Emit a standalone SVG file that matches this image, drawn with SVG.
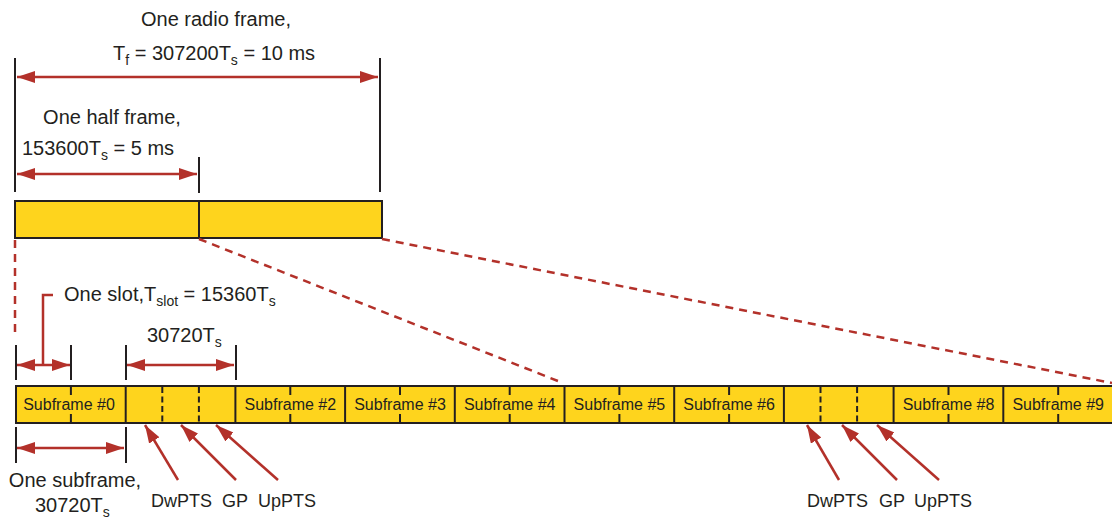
<svg xmlns="http://www.w3.org/2000/svg" width="1112" height="521" viewBox="0 0 1112 521">
  <style>
    text { font-family: "Liberation Sans", Arial, sans-serif; fill: #231f20; }
    .lbl { font-size: 20px; }
    .sf { font-size: 16px; text-anchor: middle; }
    .pt { font-size: 18px; }
    .sub { font-size: 14px; }
    .bar { fill: #fed41d; stroke: #231f20; stroke-width: 2; }
    .div { stroke: #231f20; stroke-width: 2; fill: none; }
    .dash { stroke: #231f20; stroke-width: 2; stroke-dasharray: 6 3.5; fill: none; }
    .tick { stroke: #231f20; stroke-width: 2; fill: none; }
    .red { stroke: #b3312a; stroke-width: 2.5; fill: none; }
    .zoom { stroke: #b3312a; stroke-width: 2.5; stroke-dasharray: 8 6; fill: none; }
  </style>
  <defs>
    <marker id="ah" markerUnits="userSpaceOnUse" markerWidth="20" markerHeight="14" refX="18" refY="6" orient="auto-start-reverse">
      <path d="M0,0 L18,6 L0,12 Z" fill="#b3312a"/>
    </marker>
  </defs>

  <!-- radio frame bar -->
  <g id="radio-frame">
    <rect class="bar" x="15" y="201" width="367" height="37"/>
    <line class="div" x1="199" y1="201" x2="199" y2="238"/>
  </g>

  <!-- frame dimension ticks and labels -->
  <g id="frame-dims">
    <line class="tick" x1="15" y1="58" x2="15" y2="192"/>
    <line class="tick" x1="380" y1="58" x2="380" y2="192"/>
    <line class="tick" x1="199" y1="157" x2="199" y2="193"/>
    <text class="lbl" x="216" y="26" text-anchor="middle">One radio frame,</text>
    <text class="lbl" x="113" y="60">T<tspan class="sub" dy="5">f</tspan><tspan dy="-5"> = 307200T</tspan><tspan class="sub" dy="5">s</tspan><tspan dy="-5"> = 10 ms</tspan></text>
    <text class="lbl" x="112" y="124" text-anchor="middle">One half frame,</text>
    <text class="lbl" x="22" y="155">153600T<tspan class="sub" dy="5">s</tspan><tspan dy="-5"> = 5 ms</tspan></text>
  </g>

  <!-- subframe bar -->
  <g id="subframes">
    <rect class="bar" x="16" y="386" width="1098" height="37"/>
    <!-- subframe boundaries -->
    <g class="div">
      <line x1="125.7" y1="386" x2="125.7" y2="423"/>
      <line x1="235.4" y1="386" x2="235.4" y2="423"/>
      <line x1="345.1" y1="386" x2="345.1" y2="423"/>
      <line x1="454.8" y1="386" x2="454.8" y2="423"/>
      <line x1="564.5" y1="386" x2="564.5" y2="423"/>
      <line x1="674.2" y1="386" x2="674.2" y2="423"/>
      <line x1="783.9" y1="386" x2="783.9" y2="423"/>
      <line x1="893.6" y1="386" x2="893.6" y2="423"/>
      <line x1="1003.3" y1="386" x2="1003.3" y2="423"/>
    </g>
    <!-- slot ticks -->
    <g class="div">
      <path d="M70.9,386 V395 M70.9,414 V423"/>
      <path d="M290.3,386 V395 M290.3,414 V423"/>
      <path d="M400,386 V395 M400,414 V423"/>
      <path d="M509.7,386 V395 M509.7,414 V423"/>
      <path d="M619.4,386 V395 M619.4,414 V423"/>
      <path d="M729.1,386 V395 M729.1,414 V423"/>
      <path d="M948.5,386 V395 M948.5,414 V423"/>
      <path d="M1058.2,386 V395 M1058.2,414 V423"/>
    </g>
    <!-- special subframe fields -->
    <g class="dash">
      <line x1="162.3" y1="387" x2="162.3" y2="423"/>
      <line x1="198.9" y1="387" x2="198.9" y2="423"/>
      <line x1="820.5" y1="387" x2="820.5" y2="423"/>
      <line x1="857.1" y1="387" x2="857.1" y2="423"/>
    </g>
    <text class="sf" x="69" y="410">Subframe #0</text>
    <text class="sf" x="290.3" y="410">Subframe #2</text>
    <text class="sf" x="400" y="410">Subframe #3</text>
    <text class="sf" x="509.7" y="410">Subframe #4</text>
    <text class="sf" x="619.4" y="410">Subframe #5</text>
    <text class="sf" x="729.1" y="410">Subframe #6</text>
    <text class="sf" x="948.5" y="410">Subframe #8</text>
    <text class="sf" x="1058.2" y="410">Subframe #9</text>
  </g>

  <!-- subframe dimension ticks and labels -->
  <g id="subframe-dims">
    <line class="tick" x1="16" y1="345" x2="16" y2="380"/>
    <line class="tick" x1="71" y1="345" x2="71" y2="380"/>
    <line class="tick" x1="126" y1="345" x2="126" y2="380"/>
    <line class="tick" x1="236" y1="345" x2="236" y2="380"/>
    <line class="tick" x1="16" y1="427" x2="16" y2="463"/>
    <line class="tick" x1="126" y1="427" x2="126" y2="463"/>
    <text class="lbl" x="64" y="301">One slot,T<tspan class="sub" dy="5">slot</tspan><tspan dy="-5"> = 15360T</tspan><tspan class="sub" dy="5">s</tspan></text>
    <text class="lbl" x="147" y="342">30720T<tspan class="sub" dy="5">s</tspan></text>
    <text class="lbl" x="75" y="487" text-anchor="middle">One subframe,</text>
    <text class="lbl" x="35" y="512">30720T<tspan class="sub" dy="5">s</tspan></text>
  </g>

  <!-- special subframe field labels -->
  <g id="special-left">
    <text class="pt" x="151" y="507">DwPTS</text>
    <text class="pt" x="222" y="507">GP</text>
    <text class="pt" x="258" y="507">UpPTS</text>
  </g>
  <g id="special-right">
    <text class="pt" x="807" y="507">DwPTS</text>
    <text class="pt" x="879" y="507">GP</text>
    <text class="pt" x="914" y="507">UpPTS</text>
  </g>

  <!-- connectors -->
  <g id="connectors">
    <line class="red" x1="17" y1="77" x2="378" y2="77" marker-start="url(#ah)" marker-end="url(#ah)"/>
    <line class="red" x1="17" y1="174" x2="197" y2="174" marker-start="url(#ah)" marker-end="url(#ah)"/>
    <line class="red" x1="17" y1="365" x2="70" y2="365" marker-start="url(#ah)" marker-end="url(#ah)"/>
    <line class="red" x1="127" y1="365" x2="234" y2="365" marker-start="url(#ah)" marker-end="url(#ah)"/>
    <line class="red" x1="17" y1="448" x2="124" y2="448" marker-start="url(#ah)" marker-end="url(#ah)"/>
    <polyline class="red" points="53,295 43,295 43,365"/>
    <line class="red" x1="178" y1="480" x2="145" y2="425" marker-end="url(#ah)"/>
    <line class="red" x1="236" y1="480" x2="181" y2="425" marker-end="url(#ah)"/>
    <line class="red" x1="278" y1="480" x2="216" y2="425" marker-end="url(#ah)"/>
    <line class="red" x1="839" y1="480" x2="807" y2="425" marker-end="url(#ah)"/>
    <line class="red" x1="897" y1="480" x2="842" y2="425" marker-end="url(#ah)"/>
    <line class="red" x1="939" y1="480" x2="877" y2="425" marker-end="url(#ah)"/>
    <line class="zoom" x1="15" y1="240" x2="15" y2="334"/>
    <line class="zoom" x1="199" y1="239" x2="563" y2="383"/>
    <line class="zoom" x1="382" y1="239" x2="1112" y2="383"/>
  </g>
</svg>
